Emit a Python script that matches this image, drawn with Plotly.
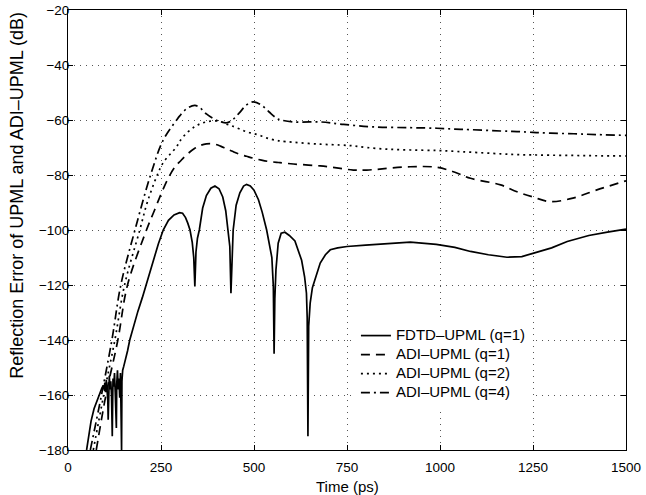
import plotly.graph_objects as go

# ---------------- data ----------------
t_fdtd = [50, 56, 62, 70, 78, 85, 91, 95, 97, 99, 101, 103, 105, 107, 108, 109, 111, 113, 115, 117,
          119, 120, 121, 123, 125, 127, 129, 130, 131, 133, 135, 137, 139, 141, 143, 144, 145, 147,
          150, 155, 160, 166, 175, 188, 200, 215, 229, 243, 256, 270, 285, 300, 308, 316, 322, 328,
          334, 338, 341, 344, 348, 353, 362, 372, 384, 395, 406, 416, 424, 431, 435, 438, 441, 444,
          452, 462, 472, 480, 490, 500, 512, 522, 534, 543, 548, 552, 554, 556, 559, 565, 573, 583,
          595, 610, 620, 628, 636, 641, 643, 645, 647, 651, 657, 664, 678, 692, 705, 725, 750, 800,
          850, 920, 990, 1040, 1082, 1130, 1180, 1220, 1252, 1300, 1342, 1400, 1450, 1500]
fdtd_q1 = [-180, -174, -169.5, -165, -162, -159.8, -157.5, -156.5, -158, -155.5, -159, -154.5, -157,
           -162, -169, -156, -153, -158, -155, -160, -175, -163, -154, -157, -152, -159, -165, -172,
           -156, -151, -158, -154, -161, -152, -170, -180, -155, -151, -149.5, -147, -144, -140,
           -135.5, -129.5, -124.5, -117.5, -111, -105, -100, -96.5, -94.5, -93.7, -93.9, -95.5,
           -97.5, -100, -104.5, -110, -120.5, -108, -103, -100, -92, -87.5, -84.8, -84, -85, -88,
           -93, -100, -106, -123, -108, -100, -91, -86.5, -84, -83.4, -84, -85.5, -89, -93.5, -100,
           -106, -110, -120.5, -145, -125, -114.5, -104.8, -101.2, -100.8, -102, -104, -107.5,
           -111, -117, -123, -132, -175, -135, -126.6, -121, -118, -112, -109, -107.2, -106.5, -106,
           -105.5, -105, -104.4, -105.2, -106.3, -107.8, -109, -109.9, -109.7, -108.4, -106.5,
           -104.2, -102, -100.8, -99.7]

t_adi = [60, 68, 76, 90, 96, 102, 118, 126, 134, 142, 152, 160, 180, 193, 211, 213, 222, 232, 240,
         253, 256, 272, 288, 292, 301, 320, 341, 355, 372, 391, 410, 426, 440, 460, 480, 498, 520,
         540, 561, 570, 606, 678, 732, 741, 767, 803, 821, 857, 920, 992, 1040, 1082, 1163, 1207,
         1250, 1297, 1360, 1420, 1500]
adi_q1 = [None, None, -180, None, None, -160, None, None, -140, None, None, -120, None, None, -100,
          None, None, -93, None, -86, None, -80.5, -77, None, -75.1, -72.5, -70.3, -69.3, -68.7,
          -68.7, -69.5, -70.5, -71.3, -72.4, -73.2, -73.9, -74.6, -75.1, -75.4, -75.5, -76.0, -76.7,
          -77.6, None, -78.2, -78.2, None, None, -77.0, -77.2, -79.0, -81.2, -83.6, -86.1, -88.0,
          -89.7, -88.3, -85.5, -82.1]
adi_q2 = [None, -180, None, None, -160, None, None, -140, None, None, -120, None, None, -100, None,
          -90, None, None, -80, None, -75.5, None, None, -69.7, -67.6, -64.6, -62.4, -61.4, -60.7,
          -60.3, -60.6, -61.5, -62.1, -63.2, -64.3, -64.9, -65.8, -66.8, -67.4, -67.6, -68.1, -68.8,
          -69.1, None, -69.4, -70.0, None, -70.6, -70.9, -71.1, -71.4, -71.7, -72.3, -72.6, -72.7,
          -72.8, -72.9, -73.0, -73.1]
adi_q4 = [-180, None, None, -160, None, None, -140, None, None, -120, None, None, -100, None, None,
          None, -80, None, None, None, -67.3, None, None, -60, -58.4, -55.8, -54.7, -55.6, -57.8,
          -59.5, -60.6, -61.0, -60.2, -57.5, -54.5, -53.4, -54.6, -57.0, -59.4, -59.9, -60.7, -60.7,
          None, -61.6, None, None, -62.5, None, -62.8, -63.0, -63.3, -63.5, -64.0, -64.2, -64.5,
          -64.8, -65.0, -65.3, -65.6]

x_ticks = [0, 250, 500, 750, 1000, 1250, 1500]
y_ticks = [-180, -160, -140, -120, -100, -80, -60, -40, -20]

series_names = ["FDTD\u2013UPML (q=1)", "ADI\u2013UPML (q=1)", "ADI\u2013UPML (q=2)", "ADI\u2013UPML (q=4)"]

FONT = "Liberation Sans, Arial, Helvetica, sans-serif"


def pairs(xs, ys):
    px, py = [], []
    for a, b in zip(xs, ys):
        if b is not None:
            px.append(a)
            py.append(b)
    return px, py


def legend_label(s):
    # legend rows are tight in the reference: small legend font drives row height,
    # the visible text is drawn larger
    return "<span style='font-size:15px'>" + s + "</span>"


fig = go.Figure()

fig.add_trace(go.Scatter(x=t_fdtd, y=fdtd_q1, mode="lines", name=legend_label(series_names[0]),
                         line=dict(color="black", width=1.7)))
x1, y1 = pairs(t_adi, adi_q1)
fig.add_trace(go.Scatter(x=x1, y=y1, mode="lines", name=legend_label(series_names[1]),
                         line_shape="spline",
                         line=dict(color="black", width=1.7, dash="9px,6px")))
x2, y2 = pairs(t_adi, adi_q2)
fig.add_trace(go.Scatter(x=x2, y=y2, mode="lines", name=legend_label(series_names[2]),
                         line_shape="spline",
                         line=dict(color="black", width=1.7, dash="2px,4px")))
x4, y4 = pairs(t_adi, adi_q4)
fig.add_trace(go.Scatter(x=x4, y=y4, mode="lines", name=legend_label(series_names[3]),
                         line_shape="spline",
                         line=dict(color="black", width=1.7, dash="9px,4px,2px,4px")))

axis_common = dict(
    showline=True, linecolor="black", linewidth=1, mirror="ticks",
    ticks="inside", ticklen=5, tickcolor="black", tickwidth=1,
    showgrid=True, gridcolor="#555555", gridwidth=1, griddash="1px,5px",
    zeroline=False, tickfont=dict(family=FONT, size=13.5, color="black"),
    ticklabeloverflow="allow", automargin=False,
)

fig.update_xaxes(range=[0, 1500], tickvals=x_ticks, ticktext=[str(v) for v in x_ticks],
                 ticklabelstandoff=5, **axis_common)
fig.update_yaxes(range=[-180, -20], tickvals=y_ticks, ticklabelstandoff=-5, **axis_common)

fig.update_layout(
    width=646, height=495,
    margin=dict(l=68, r=20, t=10, b=45, autoexpand=False),
    paper_bgcolor="white", plot_bgcolor="white",
    font=dict(family=FONT, color="black"),
    showlegend=True,
    legend=dict(x=0.516, y=0.293, xanchor="left", yanchor="top",
                bgcolor="white", borderwidth=0, font=dict(family=FONT, size=11.5, color="black"),
                tracegroupgap=0, itemwidth=30),
    annotations=[
        dict(text="Time (ps)", xref="paper", yref="paper", x=0.5014, y=-0.083,
             xanchor="center", yanchor="middle", showarrow=False,
             font=dict(family=FONT, size=15, color="black")),
        dict(text="Reflection Error of UPML and ADI\u2013UPML (dB)", xref="paper", yref="paper",
             x=-0.0914, y=0.58, xanchor="center", yanchor="middle", textangle=-90,
             showarrow=False, font=dict(family=FONT, size=18, color="black")),
    ],
)

# remove the default 8px page margin so the 646x495 figure fills the window exactly
fig.write_html("out.html", config={"displayModeBar": False},
               post_script="document.body.style.margin='0';")
